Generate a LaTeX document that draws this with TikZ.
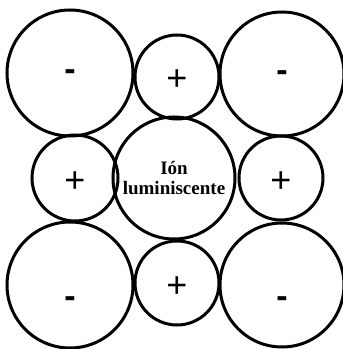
\documentclass[tikz,border=0pt]{standalone}
\usepackage{fontspec}
\setmainfont{Liberation Serif}
\newfontfamily\signfont{Liberation Sans}
\begin{document}
\begin{tikzpicture}[x=1pt,y=1pt,
  ion/.style={draw,circle,line width=3pt,inner sep=0pt},
  sign/.style={font=\signfont\fontsize{36}{36}\selectfont},
  minus/.style={font=\signfont\bfseries\fontsize{34}{34}\selectfont},
  centre/.style={font=\bfseries\fontsize{19}{20}\selectfont,align=center}]
\useasboundingbox (0,0) rectangle (343,349);

\node[ion,minimum size=126pt] (tl) at (70,276) {};
\node[ion,minimum size=84pt] (tm) at (177,272) {};
\node[ion,minimum size=124pt] (tr) at (282,275) {};

\node[ion,minimum size=86pt] (ml) at (75,171) {};
\node[ion,minimum size=122pt] (c) at (174,171) {};
\node[ion,minimum size=84pt] (mr) at (281,171) {};

\node[ion,minimum size=126pt] (bl) at (70,64) {};
\node[ion,minimum size=84pt] (bm) at (177,66) {};
\node[ion,minimum size=124pt] (br) at (282,64) {};

\node[minus] (stl) at ([yshift=-2pt]tl.center) {-};
\node[sign] (stm) at ([yshift=-3pt]tm.center) {+};
\node[minus] (str) at ([yshift=-2pt]tr.center) {-};
\node[sign] (sml) at ([yshift=-4pt]ml.center) {+};
\node[centre] (sc) at (c.center) {Ión\\luminiscente};
\node[sign] (smr) at ([yshift=-4pt]mr.center) {+};
\node[minus] (sbl) at ([yshift=-17pt]bl.center) {-};
\node[sign] (sbm) at ([yshift=-4pt]bm.center) {+};
\node[minus] (sbr) at ([yshift=-17pt]br.center) {-};
\end{tikzpicture}
\end{document}
